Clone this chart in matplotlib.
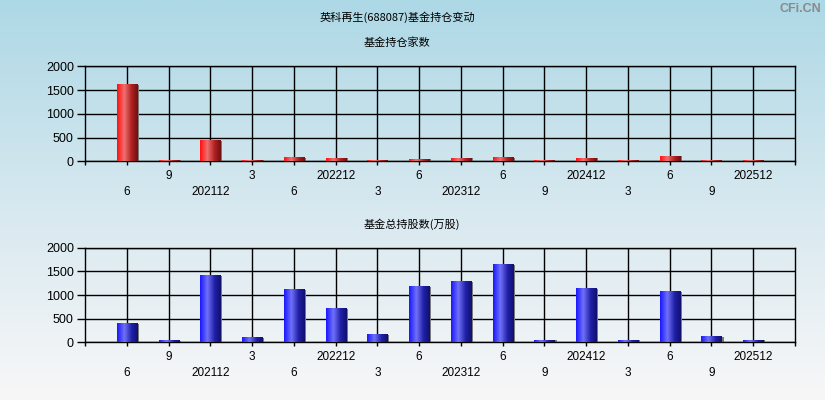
import matplotlib
matplotlib.use("Agg")
import matplotlib.pyplot as plt
import numpy as np
from matplotlib.colors import LinearSegmentedColormap

plt.rcParams['font.family'] = ['Noto Sans CJK SC', 'DejaVu Sans']

# quarter labels, two alternating rows under the axis
labels = ['6', '9', '202112', '3', '6', '202212', '3', '6',
          '202312', '6', '9', '202412', '3', '6', '9', '202512']

# number of funds holding
fund_count = [1610, 20, 425, 20, 80, 60, 15, 40,
              60, 80, 15, 60, 15, 105, 15, 15]

# total shares held (10k shares)
fund_shares = [385, 25, 1400, 90, 1100, 700, 150, 1165,
               1270, 1630, 40, 1125, 40, 1060, 110, 40]

red_cmap = LinearSegmentedColormap.from_list(
    'redbar', [(0.0, '#ff1010'), (0.35, '#f07070'), (0.7, '#b02020'), (1.0, '#701010')])
blue_cmap = LinearSegmentedColormap.from_list(
    'bluebar', [(0.0, '#1818ff'), (0.35, '#7070f8'), (0.7, '#2020a8'), (1.0, '#101070')])

fig = plt.figure(figsize=(8.25, 4), dpi=100)

# background gradient
bg = fig.add_axes([0, 0, 1, 1], zorder=-10)
bg_cmap = LinearSegmentedColormap.from_list('bg', ['#add8e6', '#d6e8ef', '#f8f7f8'])
bg.imshow(np.linspace(0, 1, 256).reshape(-1, 1), aspect='auto', cmap=bg_cmap,
          extent=[0, 1, 0, 1])
bg.axis('off')

fig.text(397 / 825, 1 - 17 / 400, '英科再生(688087)基金持仓变动', ha='center', va='center', fontsize=8)
fig.text(800 / 825, 1 - 9 / 400, 'CFi.CN', ha='center', va='center',
         fontsize=9, color='#8a8a8a', fontweight='bold', family='Liberation Sans')

grad = np.linspace(0, 1, 64).reshape(1, -1)
width = 0.48


def draw_panel(rect, values, cmap, title, title_x, title_y):
    ax = fig.add_axes(rect)
    ax.patch.set_alpha(0)
    x = np.arange(len(values))
    for xi, v in zip(x, values):
        # gray side shadow
        ax.bar(xi + 0.05, v, width=width, color='#7a7a7a', zorder=2)
        ax.imshow(grad, cmap=cmap, aspect='auto', zorder=3,
                  extent=[xi - width / 2, xi + width / 2, 0, v])
    ax.set_xlim(-1, len(values))
    ax.set_ylim(0, 2000)
    ax.set_yticks([0, 500, 1000, 1500, 2000])
    ax.set_xticks(x)
    ax.set_xticklabels(labels)
    ax.set_xticks([-1, len(values)], minor=True)
    ax.grid(True, color='black', linewidth=1.0, zorder=1)
    ax.set_axisbelow(True)
    for s in ax.spines.values():
        s.set_color('black')
        s.set_linewidth(1.0)
    ax.tick_params(axis='y', length=6, width=1.0, pad=2, labelsize=9)
    ax.tick_params(axis='x', which='both', length=3, width=1.0, labelsize=8.5)
    for i, t in enumerate(ax.xaxis.get_major_ticks()):
        t.set_pad(3.5 if i % 2 == 1 else 15)
    for lab in ax.get_xticklabels() + ax.get_yticklabels():
        lab.set_family('Liberation Sans')
    fig.text(title_x / 825, 1 - title_y / 400, title, ha='center', va='center', fontsize=8)
    return ax


draw_panel([85 / 825, 1 - 161.3 / 400, 710 / 825, 95 / 400], fund_count, red_cmap,
           '基金持仓家数', 397, 43)
draw_panel([85 / 825, 1 - 342.3 / 400, 710 / 825, 94.6 / 400], fund_shares, blue_cmap,
           '基金总持股数(万股)', 412, 224)

fig.savefig('out.png', dpi=100)
